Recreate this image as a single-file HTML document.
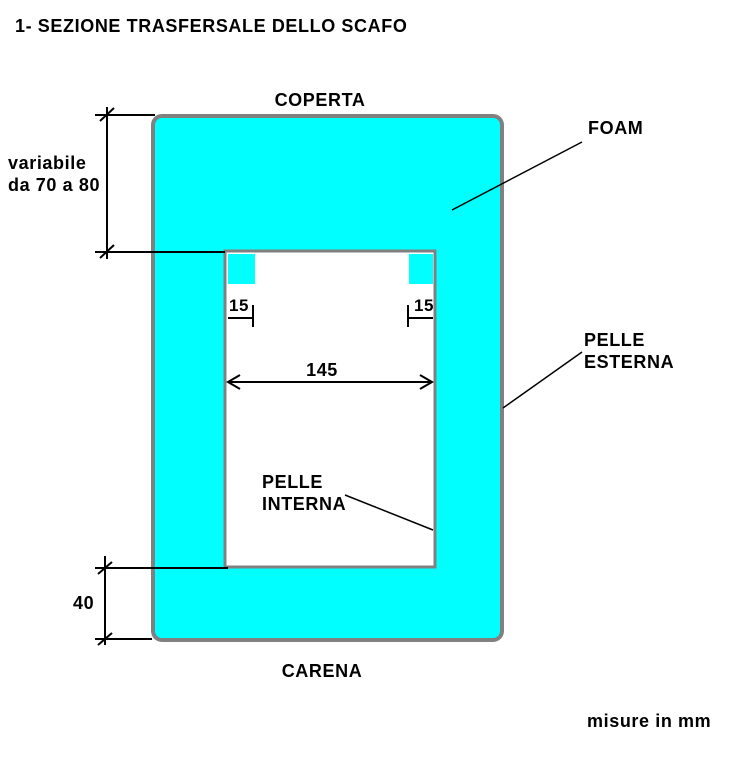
<!DOCTYPE html>
<html><head><style>body{margin:0;background:#fff}</style></head><body>
<svg width="756" height="756" viewBox="0 0 756 756" xmlns="http://www.w3.org/2000/svg" font-family="Liberation Sans, sans-serif" font-weight="bold" font-size="18" letter-spacing="0.6">
<rect x="153" y="116" width="349" height="524" rx="9" fill="#00ffff" stroke="#808080" stroke-width="4"/>
<rect x="225" y="251" width="210" height="316" fill="#fff" stroke="#808080" stroke-width="3"/>
<rect x="228" y="254" width="27" height="30" fill="#00ffff"/>
<rect x="409" y="254" width="24" height="30" fill="#00ffff"/>
<g stroke="#000" stroke-width="2" fill="none">
<line x1="107" y1="107" x2="107" y2="259"/>
<line x1="95" y1="115" x2="155" y2="115"/>
<line x1="95" y1="252" x2="225" y2="252"/>
<line x1="100" y1="121" x2="114" y2="108"/>
<line x1="100" y1="258" x2="114" y2="245"/>
<line x1="105" y1="556" x2="105" y2="645"/>
<line x1="95" y1="568" x2="228" y2="568"/>
<line x1="95" y1="639" x2="152" y2="639"/>
<line x1="98" y1="574" x2="112" y2="562"/>
<line x1="98" y1="645" x2="112" y2="633"/>
<line x1="253" y1="305" x2="253" y2="327"/>
<line x1="228" y1="318" x2="253" y2="318"/>
<line x1="408" y1="305" x2="408" y2="327"/>
<line x1="408" y1="318" x2="433" y2="318"/>
<line x1="228" y1="382" x2="432" y2="382"/>
<polyline points="240,375 228,382 240,389"/>
<polyline points="420,375 432,382 420,389"/>
<line x1="582" y1="142" x2="452" y2="210" stroke-width="1.5"/>
<line x1="582" y1="352" x2="503" y2="408" stroke-width="1.5"/>
<line x1="345" y1="495" x2="433" y2="530" stroke-width="1.5"/>
</g>
<text x="15" y="32">1- SEZIONE TRASFERSALE DELLO SCAFO</text>
<text x="320" y="106" text-anchor="middle">COPERTA</text>
<text x="588" y="134">FOAM</text>
<text x="8" y="169">variabile</text>
<text x="8" y="191">da 70 a 80</text>
<text x="229" y="311" font-size="17">15</text>
<text x="414" y="311" font-size="17">15</text>
<text x="322" y="376" text-anchor="middle">145</text>
<text x="584" y="346">PELLE</text>
<text x="584" y="368">ESTERNA</text>
<text x="262" y="488">PELLE</text>
<text x="262" y="510">INTERNA</text>
<text x="73" y="609">40</text>
<text x="322" y="677" text-anchor="middle">CARENA</text>
<text x="587" y="727">misure in mm</text>
</svg>
</body></html>
